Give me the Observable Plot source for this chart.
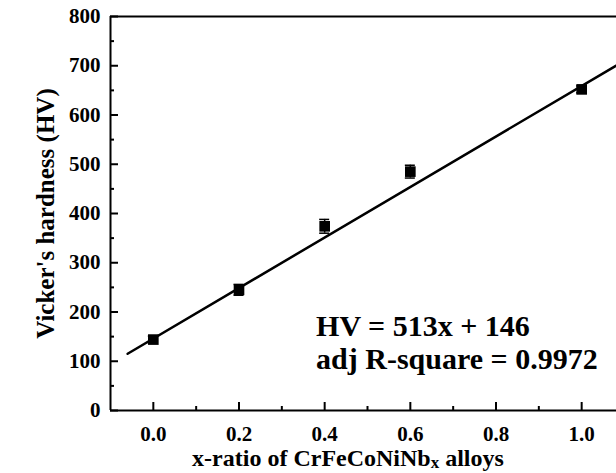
<!DOCTYPE html>
<html>
<head>
<meta charset="utf-8">
<script src="https://cdn.jsdelivr.net/npm/d3@7"></script>
<script src="https://cdn.jsdelivr.net/npm/@observablehq/plot@0.6"></script>
<style>
  html, body { margin: 0; padding: 0; background: #fff; overflow: hidden; }
  #chart { width: 616px; height: 473px; overflow: hidden; }
</style>
</head>
<body>
<div id="chart"></div>
<script>
// Data
const xRatio = [0.0, 0.2, 0.4, 0.6, 1.0];
const hardness = [144, 245, 374, 485, 652];
const hardnessErr = [7, 11, 14, 13, 7];
const fitSlope = 513;
const fitIntercept = 146;
const fitRange = [-0.06, 1.1];
const xMajorTicks = [0.0, 0.2, 0.4, 0.6, 0.8, 1.0];
const xMinorTicks = [0.1, 0.3, 0.5, 0.7, 0.9];
const yMajorTicks = [0, 100, 200, 300, 400, 500, 600, 700, 800];
const yMinorTicks = [50, 150, 250, 350, 450, 550, 650, 750];
const annotationLines = ["HV = 513x + 146", "adj R-square = 0.9972"];
const xTitle = "x-ratio of CrFeCoNiNb";
const yTitle = "Vicker's hardness (HV)";

const points = xRatio.map((x, i) => ({x, y: hardness[i], e: hardnessErr[i]}));
const fitLine = fitRange.map(x => ({x, y: fitSlope * x + fitIntercept}));

const font = "'Liberation Serif', 'Times New Roman', serif";
const txt = {fontFamily: font, fontWeight: "bold", fill: "black"};

const chart = Plot.plot({
  width: 616,
  height: 473,
  marginLeft: 110,
  marginRight: -8,
  marginTop: 16,
  marginBottom: 63,
  style: {fontFamily: font, fontWeight: "bold", background: "white", overflow: "hidden"},
  x: {type: "linear", domain: [-0.1, 1.1], axis: null},
  y: {type: "linear", domain: [0, 800], axis: null},
  marks: [
    // frame lines (left, bottom, top)
    Plot.ruleX([-0.1], {stroke: "black", strokeWidth: 2}),
    Plot.ruleY([0], {stroke: "black", strokeWidth: 2}),
    Plot.ruleY([800], {stroke: "black", strokeWidth: 2}),
    // inward ticks x
    Plot.ruleX(xMajorTicks, {x: d => d, y1: 0, y2: 0, insetTop: -8, insetBottom: 0, stroke: "black", strokeWidth: 2}),
    Plot.ruleX(xMinorTicks, {x: d => d, y1: 0, y2: 0, insetTop: -4, insetBottom: 0, stroke: "black", strokeWidth: 2}),
    // inward ticks y
    Plot.ruleY(yMajorTicks, {y: d => d, x1: -0.1, x2: -0.1, insetLeft: 0, insetRight: -8, stroke: "black", strokeWidth: 2}),
    Plot.ruleY(yMinorTicks, {y: d => d, x1: -0.1, x2: -0.1, insetLeft: 0, insetRight: -4, stroke: "black", strokeWidth: 2}),
    // tick labels
    Plot.text(xMajorTicks, {x: d => d, y: 0, text: d => d.toFixed(1), dy: 24, fontSize: 21, ...txt}),
    Plot.text(yMajorTicks, {x: -0.1, y: d => d, text: d => String(d), dx: -10, textAnchor: "end", fontSize: 21, ...txt}),
    // fit line
    Plot.line(fitLine, {x: "x", y: "y", stroke: "black", strokeWidth: 2.5}),
    // error bars
    Plot.ruleX(points, {x: "x", y1: d => d.y - d.e, y2: d => d.y + d.e, stroke: "black", strokeWidth: 1.5}),
    Plot.ruleY(points, {y: d => d.y - d.e, x1: "x", x2: "x", insetLeft: -5, insetRight: -5, stroke: "black", strokeWidth: 1.5}),
    Plot.ruleY(points, {y: d => d.y + d.e, x1: "x", x2: "x", insetLeft: -5, insetRight: -5, stroke: "black", strokeWidth: 1.5}),
    // points
    Plot.dot(points, {x: "x", y: "y", symbol: "square", r: 6, fill: "black", stroke: "none"}),
    // annotation
    Plot.text([annotationLines[0]], {x: 0.38, y: 170, text: d => d, textAnchor: "start", fontSize: 30, ...txt}),
    Plot.text([annotationLines[1]], {x: 0.38, y: 103, text: d => d, textAnchor: "start", fontSize: 30, ...txt}),
    // y title
    Plot.text([yTitle], {frameAnchor: "left", textAnchor: "middle", text: d => d, rotate: -90, dx: -65, fontSize: 25, ...txt})
  ]
});

document.getElementById("chart").appendChild(chart);

// x title with subscript
const svg = d3.select(chart);
const t = svg.append("text")
  .attr("x", 348).attr("y", 466)
  .attr("text-anchor", "middle")
  .attr("font-family", font).attr("font-weight", "bold").attr("font-size", 24).attr("fill", "black");
t.append("tspan").text(xTitle);
t.append("tspan").attr("font-size", 17).attr("dy", 2).text("x");
t.append("tspan").attr("dy", -2).text(" alloys");
</script>
</body>
</html>
